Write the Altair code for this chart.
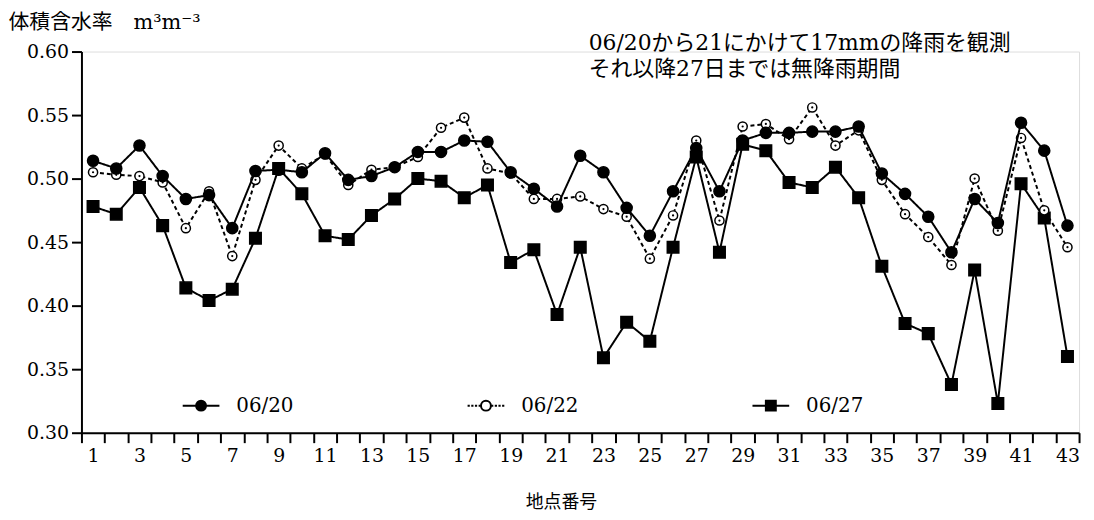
import altair as alt
import pandas as pd

# ---- data ----
points = list(range(1, 44))
series_names = ["06/20", "06/22", "06/27"]
s0620 = [0.514, 0.508, 0.526, 0.502, 0.484, 0.487, 0.461, 0.506, 0.507, 0.505,
         0.520, 0.499, 0.502, 0.509, 0.521, 0.521, 0.530, 0.529, 0.505, 0.492,
         0.478, 0.518, 0.505, 0.477, 0.455, 0.490, 0.524, 0.490, 0.530, 0.536,
         0.536, 0.537, 0.537, 0.541, 0.504, 0.488, 0.470, 0.442, 0.484, 0.465,
         0.544, 0.522, 0.463]
s0622 = [0.505, 0.503, 0.502, 0.497, 0.461, 0.490, 0.439, 0.499, 0.526, 0.508,
         0.519, 0.495, 0.507, 0.509, 0.517, 0.540, 0.548, 0.508, 0.504, 0.484,
         0.484, 0.486, 0.476, 0.470, 0.437, 0.471, 0.530, 0.467, 0.541, 0.543,
         0.531, 0.556, 0.526, 0.538, 0.499, 0.472, 0.454, 0.432, 0.500, 0.459,
         0.532, 0.475, 0.446]
s0627 = [0.478, 0.472, 0.493, 0.463, 0.414, 0.404, 0.413, 0.453, 0.508, 0.488,
         0.455, 0.452, 0.471, 0.484, 0.500, 0.498, 0.485, 0.495, 0.434, 0.444,
         0.393, 0.446, 0.359, 0.387, 0.372, 0.446, 0.517, 0.442, 0.527, 0.522,
         0.497, 0.493, 0.509, 0.485, 0.431, 0.386, 0.378, 0.338, 0.428, 0.323,
         0.496, 0.469, 0.360]
y_ticks = [0.30, 0.35, 0.40, 0.45, 0.50, 0.55, 0.60]
y_title = "体積含水率　m³m⁻³"
x_title = "地点番号"
note_lines = ["06/20から21にかけて17mmの降雨を観測", "それ以降27日までは無降雨期間"]

FONT = "DejaVu Serif, Noto Sans CJK JP"

rows = []
for name, vals in zip(series_names, [s0620, s0622, s0627]):
    for p, v in zip(points, vals):
        rows.append({"point": p, "value": v, "series": name})
df = pd.DataFrame(rows)

x_tick_vals = [0.5 + 0.5 * k for k in range(87)]

x_enc = alt.X(
    "point:Q",
    scale=alt.Scale(domain=[0.5, 43.5], nice=False, zero=False),
    axis=alt.Axis(
        values=x_tick_vals,
        title=x_title,
        labelExpr="datum.value % 2 === 1 ? format(datum.value, 'd') : ''",
        tickOpacity={"condition": {"test": "datum.value % 1 === 0", "value": 0}, "value": 1},
        labelOverlap=False,
        labelFlush=False,
        grid=False,
        tickSize=10,
        tickWidth=2,
        tickColor="black",
        domainColor="black",
        domainWidth=2,
        labelFont=FONT,
        labelFontSize=19,
        labelColor="black",
        labelPadding=4,
        titleFont=FONT,
        titleFontSize=18,
        titleFontWeight="normal",
        titleColor="black",
        titlePadding=28,
        titleX=483,
    ),
)
y_enc = alt.Y(
    "value:Q",
    scale=alt.Scale(domain=[0.30, 0.60], nice=False, zero=False),
    axis=alt.Axis(
        values=y_ticks,
        format=".2f",
        title=y_title,
        titleAngle=0,
        titleAlign="left",
        titleBaseline="alphabetic",
        titleX=-74,
        titleY=-23,
        titleFont=FONT,
        titleFontSize=21,
        titleFontWeight="normal",
        titleColor="black",
        grid=False,
        tickSize=10,
        tickWidth=2,
        tickColor="black",
        domainColor="black",
        domainWidth=2,
        labelFont=FONT,
        labelFontSize=19,
        labelColor="black",
        labelPadding=3,
    ),
)

base = alt.Chart(df).encode(x=x_enc, y=y_enc)

def series_layers(name, dash, shape, fill, size):
    sub = base.transform_filter(alt.datum.series == name)
    line = sub.mark_line(color="black", strokeWidth=2, strokeDash=dash)
    pts = sub.mark_point(shape=shape, filled=True, fill=fill, stroke="black",
                         strokeWidth=1.5, size=size, opacity=1)
    layers = [line, pts]
    if fill == "white":
        layers.append(sub.mark_point(shape="circle", filled=True, color="black",
                                     size=5, opacity=1))
    return layers

layers = []
layers += series_layers("06/27", [1, 0], "square", "black", 135)
layers += series_layers("06/22", [4, 3], "circle", "white", 85)
layers += series_layers("06/20", [1, 0], "circle", "black", 125)

# legend-only layer (no marks drawn)
r = 0.27
circ = f"M-{r},0A{r},{r},0,1,1,{r},0A{r},{r},0,1,1,-{r},0Z"
path_20 = "M-1,0H1" + circ
path_22 = ("M-1,0H-0.88M-0.8,0H-0.68M-0.6,0H-0.48M-0.4,0H-0.3"
           "M0.3,0H0.4M0.48,0H0.6M0.68,0H0.8M0.88,0H1" + circ)
path_27 = f"M-1,0H1M-{r},-{r}H{r}V{r}H-{r}Z"

leg = alt.Legend(title=None, orient="none", legendX=101, legendY=337,
                 direction="horizontal", columns=3, columnPadding=171,
                 symbolSize=1369, symbolStrokeWidth=2, symbolStrokeColor="black",
                 labelFont=FONT, labelFontSize=20, labelColor="black",
                 labelOffset=16, padding=0)
legend_layer = alt.Chart(df).transform_filter("false").mark_point(
    filled=True, strokeWidth=2, opacity=1
).encode(
    shape=alt.Shape("series:N", scale=alt.Scale(domain=series_names,
                    range=[path_20, path_22, path_27]), legend=leg),
    fill=alt.Fill("series:N", scale=alt.Scale(domain=series_names,
                  range=["black", "white", "black"]), legend=leg),
    stroke=alt.Stroke("series:N", scale=alt.Scale(domain=series_names,
                      range=["black", "black", "black"]), legend=leg),
)

note = alt.Chart(pd.DataFrame({"k": [0]})).mark_text(
    text=note_lines, align="left", baseline="alphabetic", font=FONT,
    fontSize=22, lineHeight=27, color="black"
).encode(x=alt.value(511), y=alt.value(-2))

chart = alt.layer(*layers, legend_layer, note).properties(
    width=1005, height=384,
    autosize=alt.AutoSizeParams(type="none"),
    padding={"left": 74, "top": 42, "right": 7, "bottom": 78},
).configure_view(stroke=None).configure(background="white")

chart.save("out.html", embed_options={"renderer": "svg", "actions": False})
